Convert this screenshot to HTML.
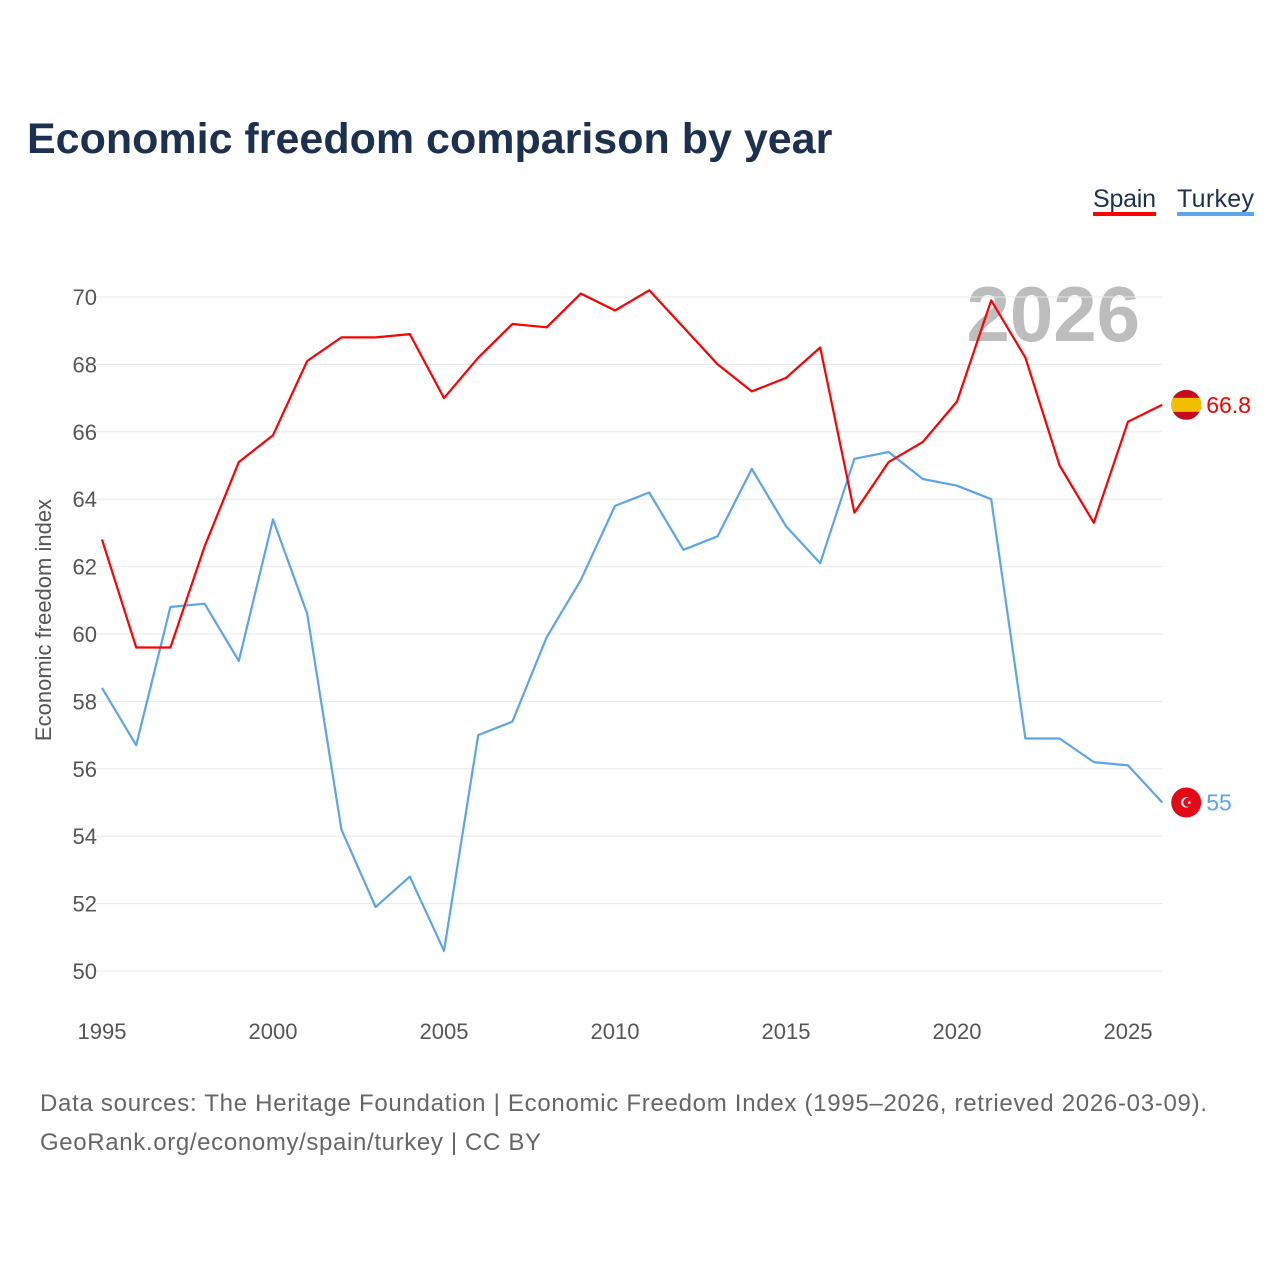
<!DOCTYPE html>
<html><head><meta charset="utf-8"><style>
body{margin:0;background:#fff;font-family:"Liberation Sans",sans-serif;}
svg{display:block}
</style></head><body>
<svg id="chart" width="1280" height="1280" xmlns="http://www.w3.org/2000/svg">
<defs><clipPath id="flagclip"><circle id="fc" cx="0" cy="0" r="15"/></clipPath></defs>
<text x="27" y="153" font-size="43" font-weight="bold" fill="#1c3050">Economic freedom comparison by year</text>
<g>
<text x="1093" y="207" font-size="25" fill="#1c3050" textLength="63">Spain</text>
<rect x="1093" y="212" width="63" height="4" fill="#ff0000"/>
<text x="1177" y="207" font-size="25" fill="#1c3050" textLength="77">Turkey</text>
<rect x="1177" y="212" width="77" height="4" fill="#5ba5ea"/>
</g>
<text x="1140" y="341" font-size="78" font-weight="bold" fill="#bdbdbd" text-anchor="end">2026</text>
<g id="grid"></g><g id="axes"></g><g id="lines"></g>
<text transform="translate(51,620) rotate(-90)" font-size="22" fill="#555" text-anchor="middle">Economic freedom index</text>
<text x="40" y="1111" font-size="24" fill="#666" textLength="1167">Data sources: The Heritage Foundation | Economic Freedom Index (1995–2026, retrieved 2026-03-09).</text>
<text x="40" y="1150" font-size="24" fill="#666" textLength="501">GeoRank.org/economy/spain/turkey | CC BY</text>
</svg>
<script>
const years=[1995,1996,1997,1998,1999,2000,2001,2002,2003,2004,2005,2006,2007,2008,2009,2010,2011,2012,2013,2014,2015,2016,2017,2018,2019,2020,2021,2022,2023,2024,2025,2026];
const spain=[62.8,59.6,59.6,62.6,65.1,65.9,68.1,68.8,68.8,68.9,67.0,68.2,69.2,69.1,70.1,69.6,70.2,69.1,68.0,67.2,67.6,68.5,63.6,65.1,65.7,66.9,69.9,68.2,65.0,63.3,66.3,66.8];
const turkey=[58.4,56.7,60.8,60.9,59.2,63.4,60.6,54.2,51.9,52.8,50.6,57.0,57.4,59.9,61.6,63.8,64.2,62.5,62.9,64.9,63.2,62.1,65.2,65.4,64.6,64.4,64.0,56.9,56.9,56.2,56.1,55.0];
const yTicks=[50,52,54,56,58,60,62,64,66,68,70];
const xTicks=[1995,2000,2005,2010,2015,2020,2025];
const NS="http://www.w3.org/2000/svg";
const xs=v=>102+(v-1995)*(1128-102)/30;
const ys=v=>971-(v-50)*(971-297)/20;
function mk(t,a,p){const e=document.createElementNS(NS,t);for(const k in a)e.setAttribute(k,a[k]);p.appendChild(e);return e;}
const grid=document.getElementById('grid'),axes=document.getElementById('axes'),lines=document.getElementById('lines');
yTicks.forEach(v=>{
 const l=mk('line',{x1:95,x2:1162,y1:ys(v),y2:ys(v),stroke:'#e8e8e8','stroke-width':1},grid);
 
 
 const t=mk('text',{x:97,y:ys(v)+8,'font-size':22,fill:'#555','text-anchor':'end'},axes);
 t.textContent=v;
 
 
});
xTicks.forEach(v=>{
 const t=mk('text',{x:xs(v),y:1039,'font-size':22,fill:'#555','text-anchor':'middle'},axes);
 t.textContent=v;
 
 
});
function series(vals,color,name){
 const d=vals.map((v,i)=>(i?'L':'M')+xs(years[i]).toFixed(1)+','+ys(v).toFixed(1)).join('');
 const p=mk('path',{d:d,fill:'none',stroke:color,'stroke-width':2.2,'stroke-linejoin':'round'},lines);
 
 
 const last=vals[vals.length-1],lx=xs(years[years.length-1])+24,ly=ys(last);
 const g=mk('g',{transform:'translate('+lx+','+ly+')'},lines);
 
 
 if(name==='spain'){
  const f=mk('g',{'clip-path':'url(#flagclip)'},g);
  mk('rect',{x:-15,y:-15,width:30,height:30,fill:'#c60b1e'},f);
  mk('rect',{x:-15,y:-7,width:30,height:14,fill:'#f1bf00'},f);
 } else {
  mk('circle',{cx:0,cy:0,r:15,fill:'#e30a17'},g);
  mk('text',{x:0,y:5,'font-size':14,fill:'#fff','text-anchor':'middle'},g).textContent='☪';
 }
 const t=mk('text',{x:lx+20,y:ly+8,'font-size':23,fill:color},lines);
 t.textContent=last;
 
 
}
series(turkey,'#5ba5ea','turkey');
series(spain,'#ff0000','spain');
</script>
</body></html>
